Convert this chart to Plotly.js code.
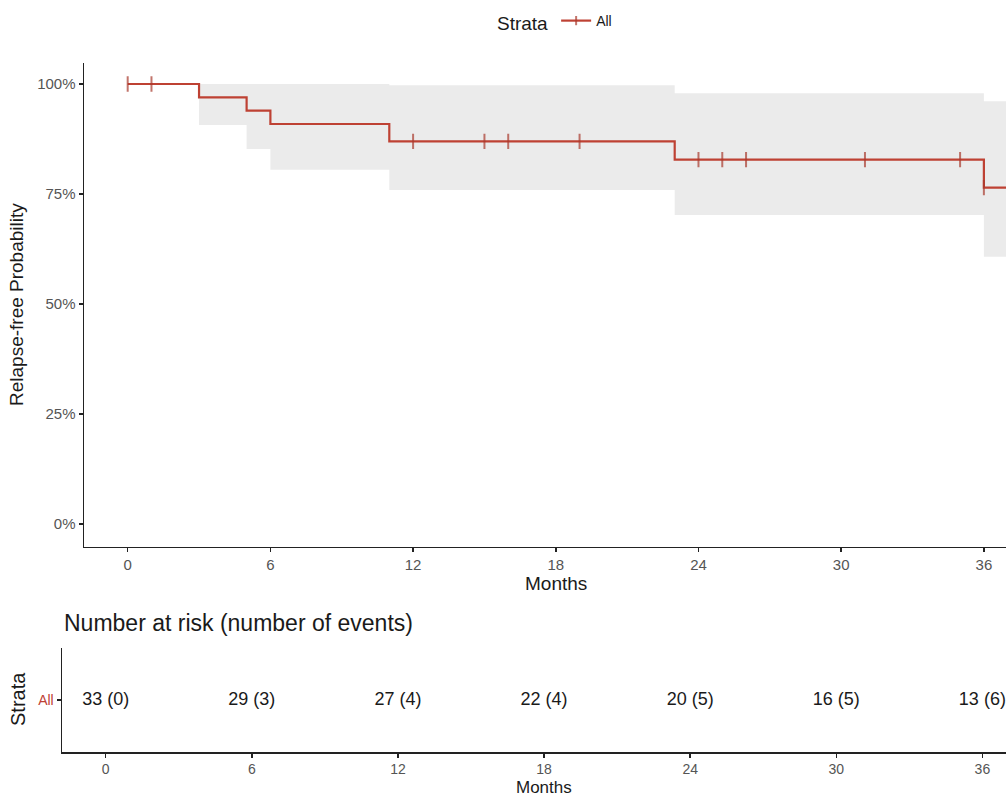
<!DOCTYPE html>
<html>
<head>
<meta charset="utf-8">
<script src="https://cdn.plot.ly/plotly-3.0.1.min.js"></script>
<style>html,body{margin:0;padding:0;background:#fff;}#chart{width:1006px;height:798px;}</style>
</head>
<body>
<div id="chart"></div>
<script>
// ---- data ----
const eventTimes = [3, 5, 6, 11, 23, 36];
const survAfterEvent = [0.9697, 0.9394, 0.9091, 0.8696, 0.8282, 0.7645];
const censorTimes = [0, 1, 12, 15, 16, 19, 24, 25, 26, 31, 35, 36];
const bandTimes = [0, 3, 5, 6, 11, 23, 36];
const bandUpper = [1, 1, 1, 1, 0.997, 0.979, 0.961];
const bandLower = [1, 0.907, 0.852, 0.805, 0.759, 0.702, 0.6075];
const followUpEnd = 37;
const riskTimes = [0, 6, 12, 18, 24, 30, 36];
const nRisk = [33, 29, 27, 22, 20, 16, 13];
const nEvents = [0, 3, 4, 4, 5, 5, 6];
const strataName = 'All';
const xTicks = [0, 6, 12, 18, 24, 30, 36];
const yTicks = [0, 0.25, 0.5, 0.75, 1];
const yTickLabels = ['0%', '25%', '50%', '75%', '100%'];

// ---- styling ----
const RED = '#BE4133';
const FONT = 'Liberation Sans, Arial, sans-serif';
const W = 1006, H = 798;

function surv(t) {
  let s = 1;
  for (let i = 0; i < eventTimes.length; i++) if (eventTimes[i] <= t) s = survAfterEvent[i];
  return s;
}
let pts = [{t: 0, k: 0, c: false}];
eventTimes.forEach(t => pts.push({t: t, k: 1, c: false}));
censorTimes.forEach(t => pts.push({t: t, k: 2, c: true}));
pts.sort((a, b) => a.t - b.t || a.k - b.k);
pts.push({t: followUpEnd, k: 3, c: false});
const kmX = pts.map(p => p.t);
const kmY = pts.map(p => surv(p.t));
const kmSize = pts.map(p => p.c ? 11 : 0);

const bX = bandTimes.concat([followUpEnd]);
const bU = bandUpper.concat([bandUpper[bandUpper.length - 1]]);
const bL = bandLower.concat([bandLower[bandLower.length - 1]]);

const traces = [
  {x: bX, y: bL, mode: 'lines', line: {shape: 'hv', width: 0, color: 'rgba(0,0,0,0)'},
   showlegend: false, hoverinfo: 'skip', xaxis: 'x', yaxis: 'y'},
  {x: bX, y: bU, mode: 'lines', line: {shape: 'hv', width: 0, color: 'rgba(0,0,0,0)'},
   fill: 'tonexty', fillcolor: 'rgb(235,235,235)', showlegend: false, hoverinfo: 'skip', xaxis: 'x', yaxis: 'y'},
  {x: kmX, y: kmY, mode: 'lines+markers', name: strataName,
   line: {shape: 'hv', width: 2.2, color: RED},
   marker: {symbol: 'line-ns-open', size: kmSize, color: '#A8392C', line: {color: '#A8392C', width: 2}},
   xaxis: 'x', yaxis: 'y', showlegend: true},
  {x: riskTimes, y: riskTimes.map(() => strataName), mode: 'text',
   text: riskTimes.map((t, i) => nRisk[i] + ' (' + nEvents[i] + ')'),
   textposition: 'middle center', textfont: {family: FONT, size: 18, color: '#1a1a1a'},
   xaxis: 'x2', yaxis: 'y2', showlegend: false, cliponaxis: false}
];

const axisCommon = {
  showgrid: false, zeroline: false, showline: true, linecolor: '#222', linewidth: 1.5,
  ticks: 'outside', ticklen: 4, tickwidth: 1.5, tickcolor: '#222',
  tickfont: {family: FONT, size: 15, color: '#555'}
};

const layout = {
  width: W, height: H,
  margin: {l: 0, r: 0, t: 0, b: 0},
  paper_bgcolor: '#fff', plot_bgcolor: 'rgba(0,0,0,0)',
  font: {family: FONT},
  showlegend: true,
  legend: {
    orientation: 'h', x: 495 / W, xanchor: 'left', y: 1 - 5 / H, yanchor: 'top',
    title: {text: 'Strata', font: {family: FONT, size: 19, color: '#1a1a1a'}, side: 'left'},
    font: {family: FONT, size: 14, color: '#1a1a1a'},
    itemwidth: 30, bgcolor: 'rgba(0,0,0,0)'
  },
  xaxis: Object.assign({}, axisCommon, {
    domain: [84 / W, 1], range: [-1.837, 36.93], tickvals: xTicks, anchor: 'y'
  }),
  yaxis: Object.assign({}, axisCommon, {
    domain: [(H - 546.7) / H, (H - 63) / H], range: [-0.0516, 1.0477],
    tickvals: yTicks, ticktext: yTickLabels, anchor: 'x'
  }),
  xaxis2: Object.assign({}, axisCommon, {
    domain: [62 / W, 1], range: [-1.795, 36.97], tickvals: xTicks, anchor: 'y2',
    tickfont: {family: FONT, size: 14, color: '#555'}
  }),
  yaxis2: Object.assign({}, axisCommon, {
    domain: [(H - 752) / H, (H - 648) / H], type: 'category', range: [-0.6, 0.6],
    tickfont: {family: FONT, size: 14, color: RED}, anchor: 'x2'
  }),
  annotations: [
    {text: 'Months', xref: 'x', x: 18, xanchor: 'center', yref: 'paper', y: (H - 583) / H, yanchor: 'middle',
     showarrow: false, font: {family: FONT, size: 19, color: '#1a1a1a'}},
    {text: 'Relapse-free Probability', xref: 'paper', x: 17 / W, xanchor: 'center', yref: 'paper', y: (H - 305) / H,
     yanchor: 'middle', textangle: -90, showarrow: false, font: {family: FONT, size: 19, color: '#1a1a1a'}},
    {text: 'Number at risk (number of events)', xref: 'paper', x: 62 / W, xanchor: 'left',
     yref: 'paper', y: (H - 623) / H, yanchor: 'middle', showarrow: false,
     font: {family: FONT, size: 23, color: '#1a1a1a'}},
    {text: 'Strata', xref: 'paper', x: 18 / W, xanchor: 'center', yref: 'paper', y: (H - 699) / H,
     yanchor: 'middle', textangle: -90, showarrow: false, font: {family: FONT, size: 20, color: '#1a1a1a'}},
    {text: 'Months', xref: 'x2', x: 18, xanchor: 'center', yref: 'paper', y: 0, yanchor: 'bottom',
     showarrow: false, font: {family: FONT, size: 17, color: '#1a1a1a'}, borderpad: 0}
  ]
};

Plotly.newPlot('chart', traces, layout, {displayModeBar: false, staticPlot: true});
</script>
</body>
</html>
